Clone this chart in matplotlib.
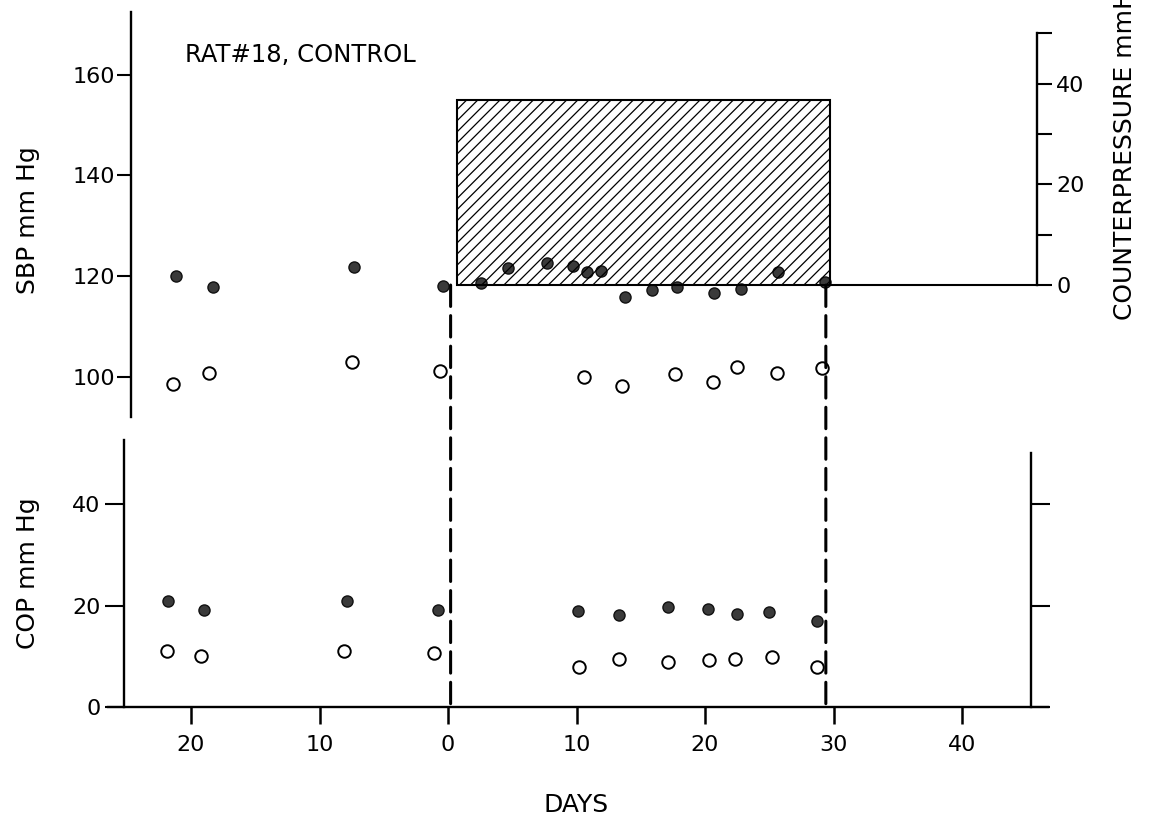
import matplotlib
matplotlib.use('Agg')
import matplotlib.pyplot as plt
from matplotlib.patches import Rectangle, ConnectionPatch
from matplotlib.ticker import FuncFormatter

# ---------------- data ----------------
sbp_fill_days = [-21.2, -18.3, -7.3, -0.4, 2.6, 4.7, 7.7, 9.7, 10.8, 11.9,
                 13.8, 15.9, 17.8, 20.7, 22.8, 25.7, 29.3]
sbp_fill = [120.0, 117.9, 121.7, 118.0, 118.7, 121.5, 122.6, 122.0, 120.7, 121.0,
            115.8, 117.2, 117.8, 116.6, 117.5, 120.8, 118.9]

sbp_open_days = [-21.4, -18.6, -7.5, -0.6, 10.6, 13.5, 17.7, 20.6, 22.5, 25.6, 29.1]
sbp_open = [98.6, 100.8, 102.9, 101.1, 100.0, 98.2, 100.6, 98.9, 101.9, 100.8, 101.7]

cop_fill_days = [-21.8, -19.0, -7.9, -0.8, 10.1, 13.3, 17.1, 20.2, 22.5, 25.0, 28.7]
cop_fill = [20.9, 19.2, 20.9, 19.2, 19.0, 18.1, 19.7, 19.3, 18.4, 18.8, 17.0]

cop_open_days = [-21.9, -19.2, -8.1, -1.1, 10.2, 13.3, 17.1, 20.3, 22.3, 25.2, 28.7]
cop_open = [11.0, 10.0, 11.1, 10.7, 7.9, 9.4, 8.9, 9.3, 9.4, 9.8, 7.9]

cp_start, cp_end, cp_level = 0.7, 29.7, 36.8      # counterpressure period
dash_days = [0.2, 29.4]                            # start / end markers

x_ticks = [-20, -10, 0, 10, 20, 30, 40]
sbp_ticks = [100, 120, 140, 160]
cop_ticks = [0, 20, 40]
cp_ticks = [0, 10, 20, 30, 40, 50]
cp_labelled = [0, 20, 40]
cp_zero_sbp = 118.2     # SBP level where counterpressure 0 sits

# ---------------- style ----------------
plt.rcParams['font.family'] = ['DejaVu Sans']
plt.rcParams['hatch.linewidth'] = 0.9
W, H = 1156, 825
fig = plt.figure(figsize=(W / 100, H / 100), dpi=100)

XLIM = (-26.5, 46.7)
SPINE_LW = 1.7
FS = 16

fill_kw = dict(ls='none', marker='o', ms=8, mfc='#3a3a3a', mec='#111111', mew=1.0)
open_kw = dict(ls='none', marker='o', ms=9, mfc='white', mec='black', mew=1.4)

# ---------------- top panel (SBP) ----------------
ax_top = fig.add_axes([0.093, 0.4945, 0.8137, 0.4909])
ax_top.set_xlim(*XLIM)
ax_top.set_ylim(92.0, 172.4)
for s in ('top', 'right', 'bottom'):
    ax_top.spines[s].set_visible(False)
ax_top.spines['left'].set_position(('data', -24.7))
ax_top.spines['left'].set_linewidth(SPINE_LW)
ax_top.tick_params(axis='x', bottom=False, labelbottom=False)
ax_top.set_yticks(sbp_ticks)
ax_top.tick_params(axis='y', direction='out', length=10, width=1.5, labelsize=FS, pad=1)
ax_top.patch.set_visible(False)

ax_top.plot(sbp_fill_days, sbp_fill, **fill_kw, zorder=4)
ax_top.plot(sbp_open_days, sbp_open, **open_kw, zorder=4)

# counterpressure axis
right_axis_day_top = 45.8
ax_cp = ax_top.twinx()
ax_cp.set_ylim(92.0 - cp_zero_sbp, 172.4 - cp_zero_sbp)
for s in ('top', 'left', 'bottom'):
    ax_cp.spines[s].set_visible(False)
ax_cp.spines['right'].set_position(('data', right_axis_day_top))
ax_cp.spines['right'].set_bounds(0, 50)
ax_cp.spines['right'].set_linewidth(SPINE_LW)
ax_cp.set_yticks(cp_ticks)
ax_cp.yaxis.set_major_formatter(FuncFormatter(lambda v, p: f'{int(v)}' if int(round(v)) in cp_labelled else ''))
ax_cp.tick_params(axis='y', direction='out', length=11, width=1.5, labelsize=FS, pad=3)

ax_cp.add_patch(Rectangle((cp_start, 0), cp_end - cp_start, cp_level,
                          fill=False, hatch='///', edgecolor='black', lw=1.5, zorder=2))
ax_cp.plot([cp_end, right_axis_day_top], [0, 0], color='black', lw=1.5)

# ---------------- bottom panel (COP) ----------------
ax_bot = fig.add_axes([0.093, 0.1430, 0.8137, 0.3236])
ax_bot.set_xlim(*XLIM)
ax_bot.set_ylim(0, 52.6)
ax_bot.spines['top'].set_visible(False)
ax_bot.spines['left'].set_position(('data', -25.2))
ax_bot.spines['right'].set_position(('data', 45.4))
ax_bot.spines['right'].set_bounds(0, 50)
for s in ('left', 'right', 'bottom'):
    ax_bot.spines[s].set_linewidth(SPINE_LW)
ax_bot.set_xticks(x_ticks)
ax_bot.xaxis.set_major_formatter(FuncFormatter(lambda v, p: f'{abs(int(round(v)))}'))
ax_bot.tick_params(axis='x', direction='out', length=12, width=1.8, labelsize=FS, pad=8)
ax_bot.set_yticks(cop_ticks)
ax_bot.tick_params(axis='y', direction='out', length=14, width=1.5, labelsize=FS, pad=3,
                   right=True, labelright=False)
ax_bot.patch.set_visible(False)

ax_bot.plot(cop_fill_days, cop_fill, **fill_kw, zorder=4)
ax_bot.plot(cop_open_days, cop_open, **open_kw, zorder=4)

# dashed lines from counterpressure baseline down to the days axis
for d in dash_days:
    con = ConnectionPatch(xyA=(d, 0), coordsA=ax_cp.transData,
                          xyB=(d, 0), coordsB=ax_bot.transData,
                          color='black', lw=2.2, linestyle=(0, (7, 3)))
    fig.add_artist(con)

# ---------------- text ----------------
fig.text(185 / W, 1 - 55 / H, 'RAT#18, CONTROL', fontsize=17.5, ha='left', va='center')
fig.text(28 / W, 1 - 220 / H, 'SBP mm Hg', fontsize=18, rotation=90, ha='center', va='center')
fig.text(28 / W, 1 - 573 / H, 'COP mm Hg', fontsize=18, rotation=90, ha='center', va='center')
fig.text(576 / W, 1 - 805 / H, 'DAYS', fontsize=18, ha='center', va='center')
fig.text(1125 / W, 1 - 320 / H, 'COUNTERPRESSURE mmHg', fontsize=18, rotation=90,
         ha='center', va='bottom')

fig.savefig('out.png', dpi=100)
